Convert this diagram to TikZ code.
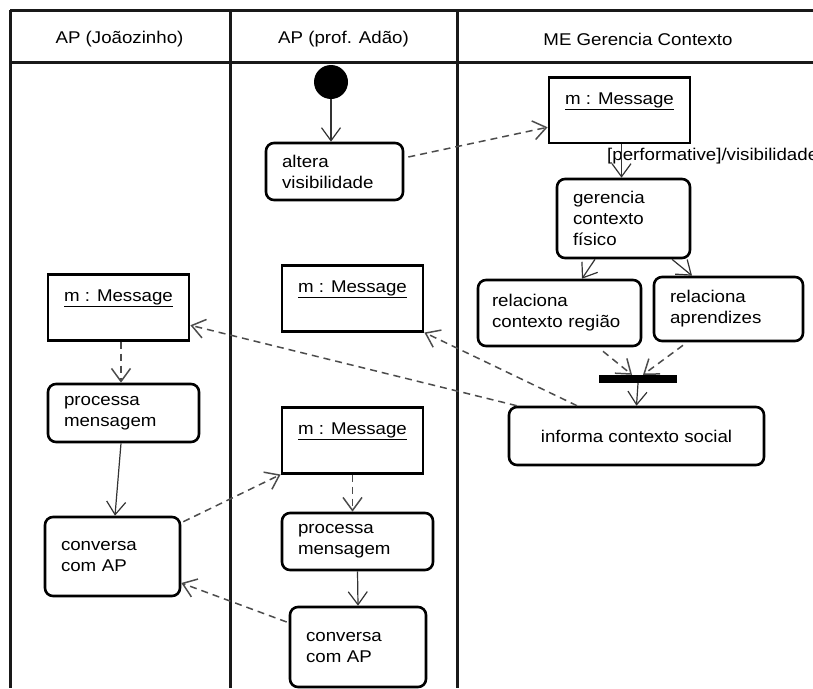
\documentclass[tikz,border=0pt]{standalone}
\usepackage{fontspec}
\setmainfont{Liberation Sans}[FakeStretch=1.1]
\usepackage{tikz}
\usetikzlibrary{arrows.meta, positioning}
\tikzstyle{lane} = [line width=3pt, black!90]
\tikzstyle{arrow} = [line width=1.2pt, black!80, ->, >={Straight Barb[length=13pt,width=19pt]}]
\tikzstyle{msg} = [arrow, line width=1.5pt, dash pattern=on 7pt off 5pt, black!70]
\tikzstyle{activity} = [rectangle, rounded corners=8pt, draw=black, line width=2.6pt, align=left, inner xsep=16pt]
\tikzstyle{object} = [rectangle, draw=black, line width=2.8pt, minimum width=141pt, inner ysep=15pt, text depth=24pt, anchor=north]
\tikzstyle{header} = [font=\fontsize{17}{20}\selectfont]

\begin{document}
\begin{tikzpicture}[x=1pt, y=-1pt, font=\fontsize{17}{21}\selectfont]
\useasboundingbox (0,0) rectangle (813,688);

% swimlanes
\draw [lane] (10,10) -- (813,10);
\draw [lane] (10,62) -- (813,62);
\draw [lane] (10,10) -- (10,688);
\draw [lane] (230,10) -- (230,688);
\draw [lane] (457,10) -- (457,688);

\node (hdjoao) [header] at (119.5,39) {AP (Joãozinho)};
\node (hdadao) [header] at (343.5,39) {AP (prof. Adão)};
\node (hdme) [header] at (638,39) {ME Gerencia Contexto};

% ME Gerencia Contexto
\node (start) [circle, fill=black, minimum size=34pt, inner sep=0pt] at (331,82) {};
\node (altera) [activity, text width=105pt, minimum height=57pt] at (334.5,171.5) {altera\\visibilidade};
\node (mme) [object] at (619.5,76) {\underline{m : Message}};
\node (ger) [activity, text width=101pt, minimum height=79pt] at (623.5,218.5) {gerencia\\contexto\\físico};
\node (perf) [anchor=west, inner sep=2pt] at (605,156) {[performative]/visibilidade};
\node (relreg) [activity, inner xsep=14pt, text width=135pt, minimum height=66pt] at (559.5,313) {relaciona\\contexto região};
\node (relapr) [activity, text width=117pt, minimum height=64pt] at (728.5,309) {relaciona\\aprendizes};
\node (join) [rectangle, fill=black, minimum width=78pt, minimum height=8pt, inner sep=0pt] at (638,379) {};
\node (info) [activity, align=center, minimum width=255pt, minimum height=58pt] at (636.5,436) {informa contexto social};

% AP (prof. Adao)
\node (madao) [object] at (352.5,264) {\underline{m : Message}};
\node (madaol) [object] at (352.5,406) {\underline{m : Message}};
\node (procadao) [activity, text width=119pt, minimum height=57pt] at (357.5,541.5) {processa\\mensagem};
\node (convadao) [activity, text width=104pt, minimum height=80pt] at (358,647) {conversa\\com AP};

% AP (Joaozinho)
\node (mjoao) [object] at (118.5,273) {\underline{m : Message}};
\node (procjoao) [activity, text width=119pt, minimum height=58pt] at (123.5,413) {processa\\mensagem};
\node (convjoao) [activity, text width=103pt, minimum height=79pt] at (112.5,556.5) {conversa\\com AP};

\draw [arrow] (start.south) -- (start.south |- altera.north);
\draw [msg] ([xshift=4pt,yshift=14.5pt]altera.east) -- ([yshift=-17pt]mme.west);
\draw [arrow] ([xshift=2pt]mme.south) -- ([xshift=-2pt]ger.north);
\draw [arrow] ([xshift=-28.5pt]ger.south) -- ([xshift=22.5pt]relreg.north);
\draw [arrow] ([xshift=48.5pt]ger.south) -- ([xshift=-36.5pt]relapr.north);
\draw [msg] ([xshift=43.5pt,yshift=-4pt]relreg.south) -- ([xshift=-6pt]join.north);
\draw [msg] ([xshift=-45.5pt,yshift=-3pt]relapr.south) -- ([xshift=5pt]join.north);
\draw [arrow] (join.south) -- (info.north);
\draw [msg] ([xshift=-59.5pt]info.north) -- (madao.south east);
\draw [msg] ([xshift=9pt]info.north west) -- ([yshift=-18pt]mjoao.east);

\draw [msg] ([xshift=2.5pt]mjoao.south) -- ([xshift=-2.5pt]procjoao.north);
\draw [arrow] ([xshift=-2.5pt]procjoao.south) -- ([xshift=2.5pt]convjoao.north);
\draw [msg] ([xshift=2pt,yshift=-6pt]convjoao.north east) -- (madaol.south west);
\draw [msg] (madaol.south) -- (madaol.south |- procadao.north);
\draw [arrow] (procadao.south) -- (convadao.north);
\draw [msg] ([xshift=-2pt,yshift=25pt]convadao.west) -- ([yshift=-26.5pt]convjoao.east);

\end{tikzpicture}
\end{document}
